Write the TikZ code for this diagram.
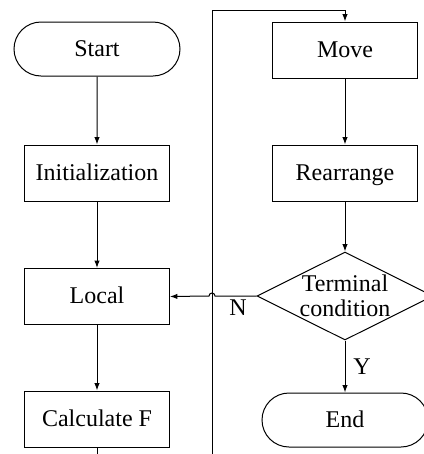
\documentclass[tikz,border=0pt]{standalone}
\usepackage{fontspec}
\setmainfont{Liberation Serif}
\usetikzlibrary{arrows.meta,shapes.misc,shapes.geometric}

\tikzset{every picture/.style={line width=0.75pt}}
\tikzset{
  procbox/.style={draw, rectangle, minimum width=108.75pt, minimum height=42pt, inner sep=0pt, text height=13.5pt, text depth=3pt, font=\fontsize{18}{19}\selectfont},
  termbox/.style={draw, rounded rectangle, minimum width=124.5pt, minimum height=40.5pt, inner sep=0pt, text height=13.5pt, text depth=3pt, font=\fontsize{18}{19}\selectfont},
  testbox/.style={draw, diamond, aspect=2, inner sep=-6pt, minimum width=132pt, minimum height=66pt, align=center, font=\fontsize{18}{19}\selectfont},
  flow/.style={-{Latex[length=5.5pt,width=4pt]}},
  lbl/.style={font=\fontsize{18}{19}\selectfont}
}

\begin{document}
\begin{tikzpicture}[x=0.75pt,y=0.75pt,yscale=-1,xscale=1]
	\useasboundingbox (0,0) rectangle (424,454);

	%Shape: Rounded Rectangle
	\node [termbox] (start) at (97,49) {Start};
	%Shape: Rectangle
	\node [procbox] (init) at (97,173) {Initialization};
	%Shape: Rectangle
	\node [procbox] (local) at (97,296.5) {Local};
	%Shape: Rectangle
	\node [procbox] (calc) at (97,419) {Calculate F};
	%Shape: Rectangle
	\node [procbox] (move) at (345,50) {Move};
	%Shape: Rectangle
	\node [procbox] (rearr) at (345,173) {Rearrange};
	%Shape: Diamond
	\node [testbox] (cond) at (345,296) {Terminal\\condition};
	%Shape: Rounded Rectangle
	\node [termbox] (end) at (345,420) {End};

	% loop corners
	\coordinate (c1) at (97,480);
	\coordinate (c2) at (212,480);
	\coordinate (c3) at (212,10);
	\coordinate (hop) at (215,296);

	%Straight Lines
	\draw [flow] (start) -- (init);
	\draw [flow] (init) -- (local);
	\draw [flow] (local) -- (calc);
	\draw [flow] (move) -- (rearr);
	\draw [flow] (rearr) -- (cond);
	\draw [flow] (cond) -- (end);
	%Connector: loop back
	\draw [flow] (calc) -- (c1) -- (c2) -- (c3) -| (move);
	%Connector: N branch
	\draw [flow] (cond.west) -- (hop) arc [start angle=0, end angle=-180, radius=3] -- (local.east);

	% Text Node
	\node [lbl] (nlbl) at (238,308) {N};
	% Text Node
	\node [lbl] (ylbl) at (362,367) {Y};

\end{tikzpicture}
\end{document}
